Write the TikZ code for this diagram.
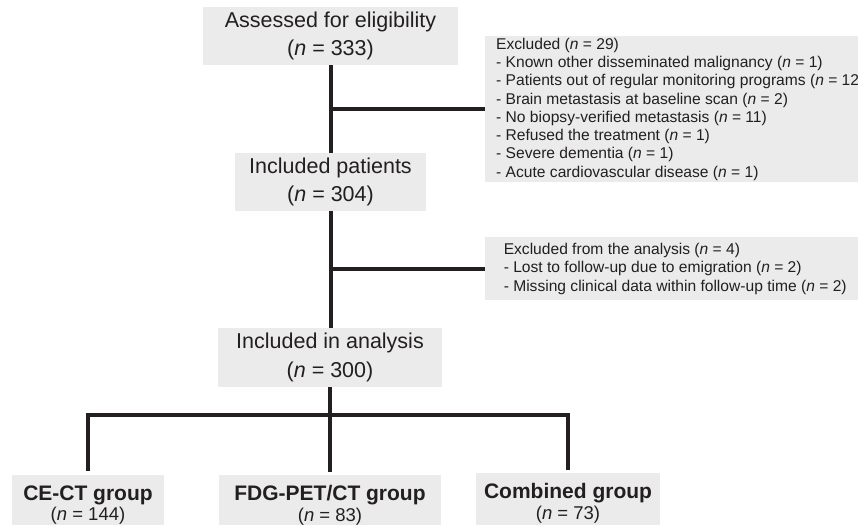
\documentclass[tikz,border=0pt]{standalone}
\usepackage{fontspec}
\setmainfont{Liberation Sans}
\definecolor{boxgray}{HTML}{EBEBEB}
\definecolor{linecol}{HTML}{231F20}
\newcommand{\nn}{\textit{n}}
\begin{document}
\begin{tikzpicture}[x=1pt,y=-1pt,
  box/.style={fill=boxgray, inner sep=0pt, align=center, text=linecol},
  mainbox/.style={box, font=\fontsize{21.5}{28.5}\selectfont},
  exbox/.style={fill=boxgray, anchor=north west, align=left, inner xsep=11pt, inner ysep=0pt, text=linecol,
    font=\fontsize{15.6}{18.3}\selectfont},
  grpbox/.style={box, anchor=north, font=\fontsize{21}{20.6}\selectfont\bfseries},
  conn/.style={line width=4pt, draw=linecol}]
\useasboundingbox (0,0) rectangle (858,524);

\node[mainbox, minimum width=255pt, minimum height=58pt] (assess) at (330.5,36)
  {Assessed for eligibility\\(\nn{} = 333)};
\node[mainbox, minimum width=191pt, minimum height=58pt] (incl) at (330.5,182)
  {Included patients\\(\nn{} = 304)};
\node[mainbox, minimum width=224pt, minimum height=59pt] (anal) at (330,357.5)
  {Included in analysis\\(\nn{} = 300)};

\node[exbox, minimum width=380pt, minimum height=146pt] (ex1) at (485,36)
  {Excluded (\nn{} = 29)\\
   - Known other disseminated malignancy (\nn{} = 1)\\
   - Patients out of regular monitoring programs (\nn{} = 12)\\
   - Brain metastasis at baseline scan (\nn{} = 2)\\
   - No biopsy-verified metastasis (\nn{} = 11)\\
   - Refused the treatment (\nn{} = 1)\\
   - Severe dementia (\nn{} = 1)\\
   - Acute cardiovascular disease (\nn{} = 1)};
\node[exbox, minimum width=380pt, minimum height=63pt] (ex2) at (485,237)
  {Excluded from the analysis (\nn{} = 4)\\
   - Lost to follow-up due to emigration (\nn{} = 2)\\
   - Missing clinical data within follow-up time (\nn{} = 2)};

\node[grpbox, minimum width=152pt, minimum height=60pt] (ce) at (88,475)
  {CE-CT group\\{\mdseries\fontsize{18.5}{20.6}\selectfont(\nn{} = 144)}};
\node[grpbox, minimum width=222pt, minimum height=60pt] (fdg) at (330,475)
  {FDG-PET/CT group\\{\mdseries\fontsize{18.5}{20.6}\selectfont(\nn{} = 83)}};
\node[grpbox, minimum width=184pt, minimum height=60pt] (comb) at (568,473)
  {Combined group\\{\mdseries\fontsize{18.5}{20.6}\selectfont(\nn{} = 73)}};

\draw[conn] (assess.south) -- (incl.north);
\draw[conn] (ex1.west) -- (ex1.west -| assess.south);
\draw[conn] (incl.south) -- (incl.south |- anal.north);
\draw[conn] (ex2.west) -- (ex2.west -| incl.south);
\coordinate (split) at (330,415);
\draw[conn, shorten >=3pt] (anal.south) -- (fdg.north);
\draw[conn, shorten <=4pt, shorten >=3pt] (ce.north) |- (comb.north |- split) -- (comb.north);
\end{tikzpicture}
\end{document}
